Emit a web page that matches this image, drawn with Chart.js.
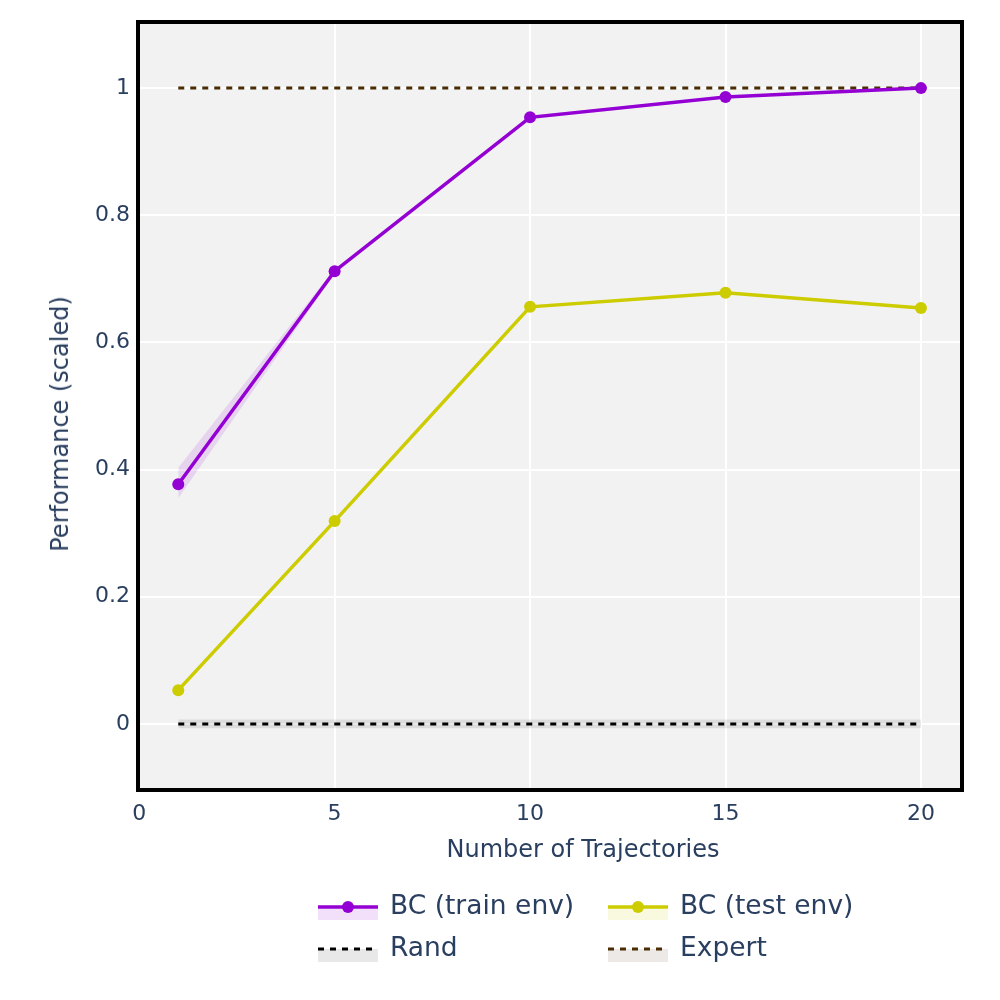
<!DOCTYPE html>
<html>
<head>
<meta charset="utf-8">
<script src="https://cdn.jsdelivr.net/npm/chart.js@4.4.1/dist/chart.umd.min.js"></script>
<style>
  html, body { margin: 0; padding: 0; background: #fff; }
  #wrap { position: relative; width: 1000px; height: 1000px; font-family: "DejaVu Sans", Verdana, sans-serif; color: #2a3f5f; }
  #chart { position: absolute; left: 0; top: 0; }
  .axis-title { position: absolute; font-size: 24px; line-height: 28px; white-space: nowrap; }
  #xTitle { left: 583px; top: 835px; transform: translateX(-50%); }
  #yTitle { left: 60px; top: 424px; transform: translate(-50%, -50%) rotate(-90deg); }
  .legend-item { position: absolute; display: flex; align-items: center; height: 30px; font-size: 26.5px; line-height: 30px; white-space: nowrap; }
  .legend-item svg { margin-right: 12px; }
</style>
</head>
<body>
<div id="wrap">
  <canvas id="chart" width="1000" height="1000"></canvas>
  <div class="axis-title" id="xTitle">Number of Trajectories</div>
  <div class="axis-title" id="yTitle">Performance (scaled)</div>
  <div id="legend"></div>
</div>
<script>
const trajectories = [1, 5, 10, 15, 20];
const trainMean = [0.377, 0.712, 0.954, 0.986, 1.0];
const trainUpper = [0.403, 0.716, 0.957, 0.988, 1.0];
const trainLower = [0.355, 0.708, 0.951, 0.984, 1.0];
const testMean = [0.053, 0.319, 0.656, 0.678, 0.654];
const randMean = [0, 0, 0, 0, 0];
const randUpper = [0.007, 0.007, 0.007, 0.007, 0.007];
const randLower = [-0.007, -0.007, -0.007, -0.007, -0.007];
const expertMean = [1, 1, 1, 1, 1];
const xTicks = [0, 5, 10, 15, 20];
const yTicks = [0, 0.2, 0.4, 0.6, 0.8, 1];

const purple = '#9400d3';
const yellow = '#cccc00';
const brown = '#4a2c05';
const tickFont = { family: 'DejaVu Sans', size: 22 };

function pts(values) {
  return trajectories.map((x, i) => ({ x: x, y: values[i] }));
}

const frame = {
  id: 'frame',
  beforeDraw(chart) {
    const a = chart.chartArea;
    const ctx = chart.ctx;
    ctx.save();
    ctx.fillStyle = '#f2f2f2';
    ctx.fillRect(a.left, a.top, a.right - a.left, a.bottom - a.top);
    ctx.restore();
  },
  afterDraw(chart) {
    const a = chart.chartArea;
    const ctx = chart.ctx;
    ctx.save();
    ctx.strokeStyle = '#000';
    ctx.lineWidth = 4;
    ctx.strokeRect(a.left, a.top, a.right - a.left, a.bottom - a.top);
    ctx.restore();
  }
};

new Chart(document.getElementById('chart'), {
  type: 'scatter',
  data: {
    datasets: [
      { label: 'train upper', data: pts(trainUpper), showLine: true, borderWidth: 0, pointRadius: 0, fill: '+1', backgroundColor: 'rgba(148,0,211,0.12)', order: 10 },
      { label: 'train lower', data: pts(trainLower), showLine: true, borderWidth: 0, pointRadius: 0, fill: false, order: 10 },
      { label: 'rand upper', data: pts(randUpper), showLine: true, borderWidth: 0, pointRadius: 0, fill: '+1', backgroundColor: 'rgba(0,0,0,0.09)', order: 10 },
      { label: 'rand lower', data: pts(randLower), showLine: true, borderWidth: 0, pointRadius: 0, fill: false, order: 10 },
      { label: 'Rand', data: pts(randMean), showLine: true, borderColor: '#000', borderWidth: 3, borderDash: [6, 6], pointRadius: 0, order: 4 },
      { label: 'Expert', data: pts(expertMean), showLine: true, borderColor: brown, borderWidth: 3, borderDash: [6, 6], pointRadius: 0, order: 3 },
      { label: 'BC (test env)', data: pts(testMean), showLine: true, borderColor: yellow, backgroundColor: yellow, borderWidth: 3.5, pointRadius: 6, pointBorderWidth: 0, order: 2 },
      { label: 'BC (train env)', data: pts(trainMean), showLine: true, borderColor: purple, backgroundColor: purple, borderWidth: 3.5, pointRadius: 6, pointBorderWidth: 0, order: 1 }
    ]
  },
  options: {
    responsive: false,
    animation: false,
    layout: { padding: { left: 0, top: 22, right: 38, bottom: 0 } },
    plugins: { legend: { display: false }, tooltip: { enabled: false } },
    scales: {
      x: {
        type: 'linear', min: -0.03, max: 21.05,
        afterBuildTicks: s => { s.ticks = xTicks.map(v => ({ value: v })); },
        afterFit: s => { s.height = 210; },
        grid: { color: '#ffffff', lineWidth: 2, drawTicks: false },
        border: { display: false },
        ticks: { padding: 11, color: '#2a3f5f', font: tickFont, maxRotation: 0 }
      },
      y: {
        type: 'linear', min: -0.104, max: 1.104,
        afterBuildTicks: s => { s.ticks = yTicks.map(v => ({ value: v })); },
        afterFit: s => { s.width = 138; },
        grid: { color: '#ffffff', lineWidth: 2, drawTicks: false },
        border: { display: false },
        ticks: { padding: 8, color: '#2a3f5f', font: tickFont, callback: v => String(Math.round(v * 10) / 10) }
      }
    }
  },
  plugins: [frame]
});

// legend built as html, same look as the plot samples
const legendItems = [
  { text: 'BC (train env)', color: purple, band: 'rgba(148,0,211,0.12)', marker: true, x: 318, y: 905 },
  { text: 'BC (test env)', color: yellow, band: 'rgba(204,204,0,0.12)', marker: true, x: 608, y: 905 },
  { text: 'Rand', color: '#000', band: 'rgba(0,0,0,0.09)', marker: false, x: 318, y: 947 },
  { text: 'Expert', color: brown, band: 'rgba(74,44,5,0.1)', marker: false, x: 608, y: 947 }
];
const legend = document.getElementById('legend');
legendItems.forEach(item => {
  const line = item.marker
    ? `<line x1="0" y1="17" x2="60" y2="17" stroke="${item.color}" stroke-width="3.5"/><circle cx="30" cy="17" r="6" fill="${item.color}"/>`
    : `<line x1="0" y1="17" x2="60" y2="17" stroke="${item.color}" stroke-width="3" stroke-dasharray="6 6"/>`;
  const div = document.createElement('div');
  div.className = 'legend-item';
  div.style.left = item.x + 'px';
  div.style.top = (item.y - 15) + 'px';
  div.innerHTML = `<svg width="60" height="30"><rect x="0" y="17" width="60" height="13" fill="${item.band}"/>${line}</svg><span>${item.text}</span>`;
  legend.appendChild(div);
});
</script>
</body>
</html>
